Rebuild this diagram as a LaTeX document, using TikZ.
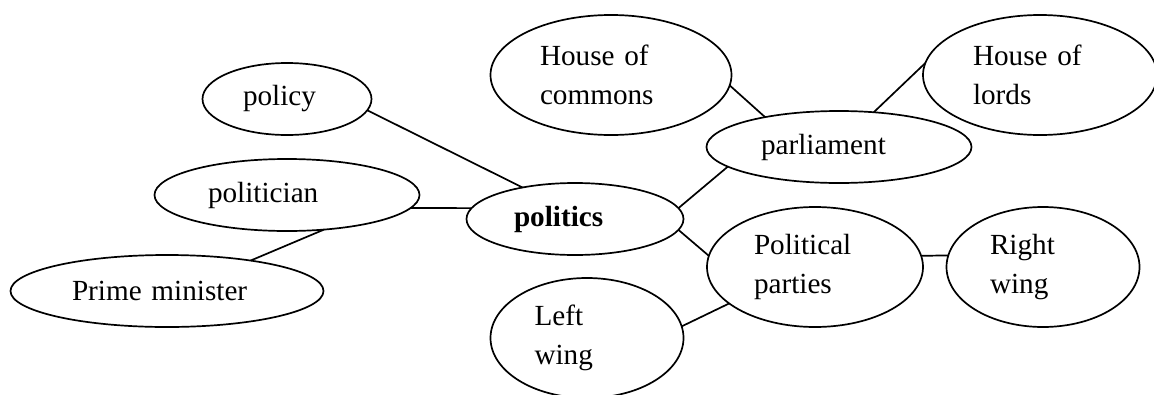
\documentclass[tikz,border=0pt]{standalone}
\usepackage{fontspec}
\setmainfont{Liberation Serif}
\usetikzlibrary{shapes.geometric}
\tikzset{
	bubble/.style={draw, ellipse, inner sep=0pt, outer sep=0pt, align=left, line width=1.7pt,
		font=\fontsize{29.2}{39}\selectfont},
	flat/.style={bubble, minimum height=72pt},
	round/.style={bubble, minimum height=120pt},
	link/.style={line width=1.7pt}
}

\begin{document}
\begin{tikzpicture}[x=1pt, y=-1pt]
	\useasboundingbox (0,0) rectangle (1154,394);
	\node[flat, minimum width=169pt, text width=88pt] (policy) at (287,99) {policy};
	\node[flat, minimum width=265pt, text width=158pt] (politician) at (287,195) {politician};
	\node[flat, minimum width=313pt, text width=190pt] (prime) at (167,291) {Prime minister};
	\node[flat, minimum width=217pt, text width=122pt, font=\fontsize{29.2}{39}\selectfont\bfseries] (politics) at (575,219) {politics};
	\node[round, minimum width=241pt, text width=142pt] (commons) at (611,75) {House of\\commons};
	\node[flat, minimum width=265pt, text width=156pt] (parliament) at (839,147) {parliament};
	\node[round, minimum width=234pt, text width=134pt] (lords) at (1040,75) {House of\\lords};
	\node[round, minimum width=216pt, text width=122pt] (parties) at (815,267) {Political\\parties};
	\node[round, minimum width=193pt, text width=106pt] (right) at (1043,267) {Right\\wing};
	\node[round, minimum width=193pt, text width=105pt] (left) at (587,338) {Left\\wing};
	\draw[link] (policy.352) -- (politics.149);
	\draw[link] (politician.354) -- (politics.174);
	\draw[link] (prime.20) -- (politician.317);
	\draw[link] (politics.6) -- (parliament.190);
	\draw[link] (politics.354) -- (parties.174);
	\draw[link] (commons.355) -- (parliament.158);
	\draw[link] (parliament.45) -- (lords.174);
	\draw[link] (parties.6) -- (right.173);
	\draw[link] (parties.203) -- (left.7);
\end{tikzpicture}
\end{document}
